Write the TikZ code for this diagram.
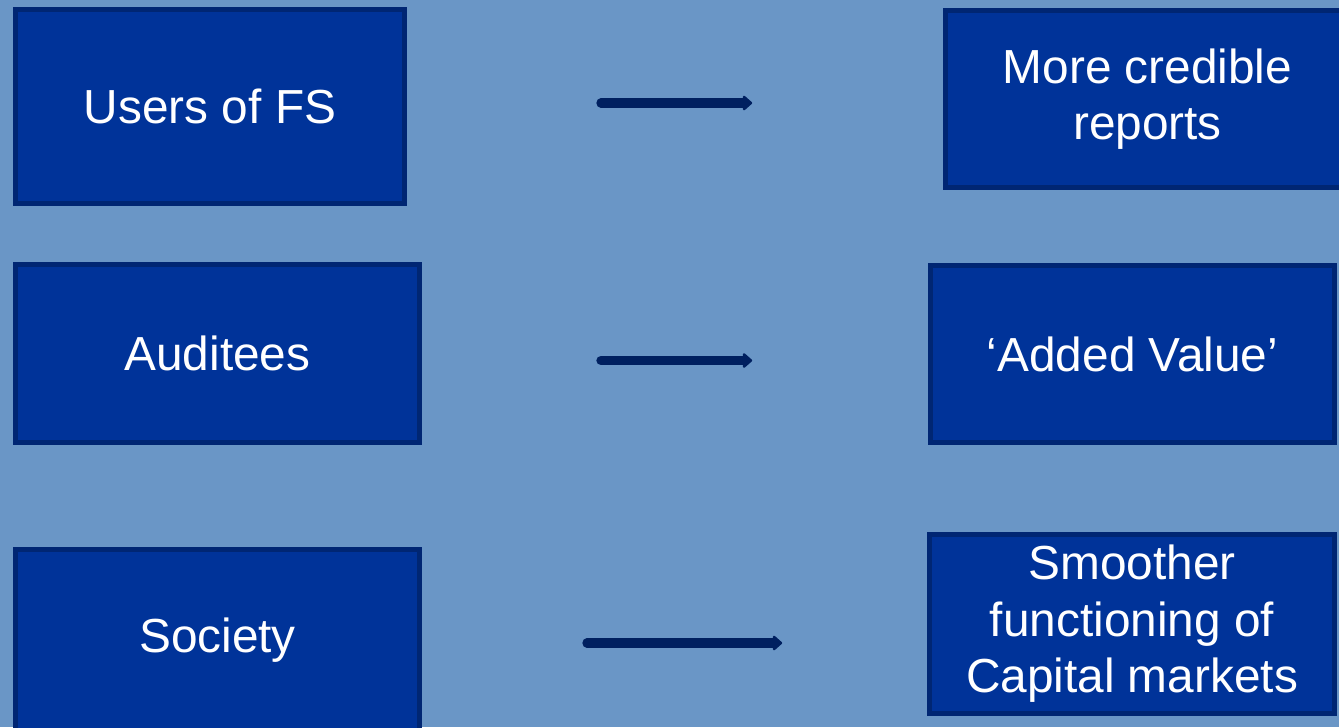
\documentclass[tikz,border=0pt]{standalone}
\usepackage{fontspec}
\setmainfont{Liberation Sans}
\usetikzlibrary{arrows.meta}

\definecolor{slidebg}{RGB}{106,150,198}
\definecolor{boxfill}{RGB}{0,51,153}
\definecolor{boxline}{RGB}{0,38,115}
\definecolor{arrowcol}{RGB}{0,32,96}

\begin{document}
\begin{tikzpicture}[x=0.02cm, y=-0.02cm,
  box/.style={draw=boxline, fill=boxfill, line width=2.8pt, text=white, align=center,
    font=\fontsize{27.2}{32.2}\selectfont, inner sep=0pt},
  flow/.style={draw=arrowcol, line width=5.2pt, line cap=round,
    -{Triangle[width=0.34cm, length=0.2cm, round]}}]
\useasboundingbox (0,0) rectangle (1339,727);
\clip (0,0) rectangle (1339,727);
\fill[slidebg] (0,0) rectangle (1339,727);

% First row
\node[box, minimum width=7.78cm, minimum height=3.88cm] (users) at (210,106.5) {Users of FS};
\node[box, minimum width=8.08cm, minimum height=3.54cm] (credible) at (1147.5,99) {More credible\\reports};

% Second row
\node[box, minimum width=8.08cm, minimum height=3.56cm] (auditees) at (217.5,353.5) {Auditees};
\node[box, minimum width=8.08cm, minimum height=3.54cm] (added) at (1132.5,354) {`Added Value'};

% Third row
\node[box, minimum width=8.08cm, minimum height=3.62cm] (society) at (217.5,640) {Society};
\node[box, minimum width=8.1cm, minimum height=3.58cm] (smoother) at (1132,624) {Smoother\\functioning of\\Capital markets};

% Arrows
\draw[flow, shorten <=3.88cm, shorten >=3.82cm] ([yshift=0.07cm]users.east) -- ([yshift=0.07cm]users.east -| credible.west);
\draw[flow, shorten <=3.58cm, shorten >=3.52cm] ([yshift=-0.14cm]auditees.east) -- ([yshift=-0.14cm]auditees.east -| added.west);
\draw[flow, shorten <=3.3cm, shorten >=2.9cm] ([yshift=-0.06cm]society.east) -- ([yshift=-0.06cm]society.east -| smoother.west);
\end{tikzpicture}
\end{document}
